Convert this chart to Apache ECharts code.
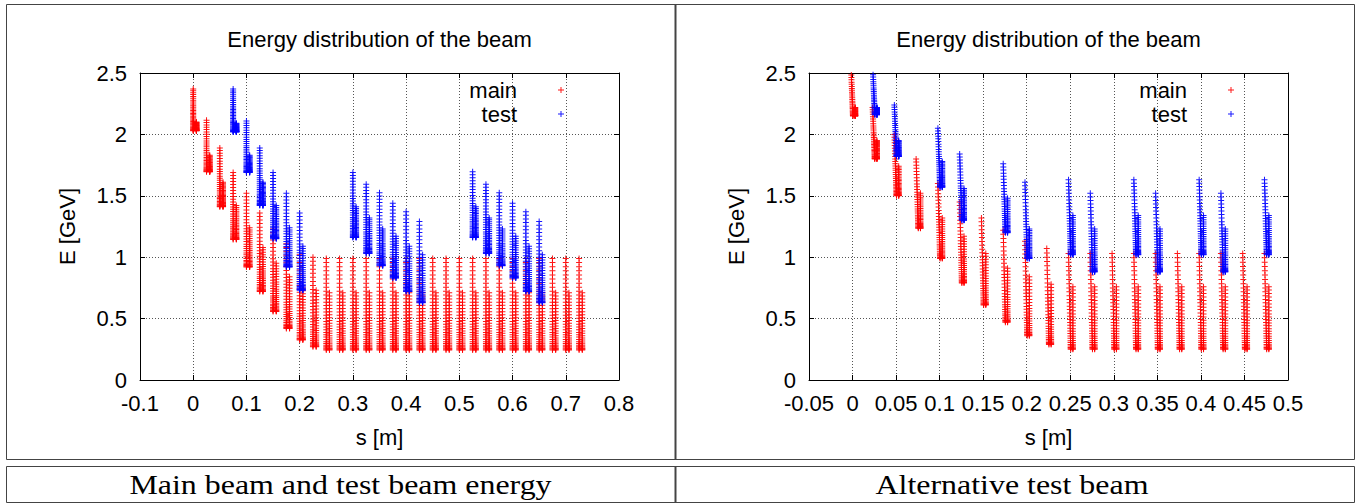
<!DOCTYPE html>
<html><head><meta charset="utf-8">
<script src="https://cdn.jsdelivr.net/npm/echarts/dist/echarts.min.js"></script>
<style>html,body{margin:0;padding:0;background:#fff;}#c{width:1362px;height:504px;}</style>
</head><body><div id="c"></div>
<script>
// ---------- LEFT PANEL: main beam and test beam ----------
const L_xTicks = [-0.1, 0.8, 0.1];   // min, max, step
const L_mainS     = [0,0.025,0.05,0.075,0.1,0.125,0.15,0.175,0.2,0.225,0.25,0.275,0.3,0.325,0.35,0.375,0.4,0.425,0.45,0.475,0.5,0.525,0.55,0.575,0.6,0.625,0.65,0.675,0.7,0.725];
const L_mainTop   = [2.37,2.115,1.89,1.69,1.52,1.36,1.23,1.11,1.02,1.0,0.99,0.99,0.99,0.99,0.99,0.99,0.99,0.99,0.99,0.99,0.99,0.99,0.99,0.99,0.99,0.99,0.99,0.99,0.99,0.99];
const L_mainSplit = [2.10,1.83,1.61,1.42,1.24,1.08,0.95,0.84,0.75,0.73,0.71,0.71,0.71,0.71,0.71,0.71,0.71,0.71,0.71,0.71,0.71,0.71,0.71,0.71,0.71,0.71,0.71,0.71,0.71,0.71];
const L_mainBot   = [2.03,1.695,1.41,1.145,0.92,0.72,0.557,0.42,0.325,0.27,0.245,0.245,0.245,0.245,0.245,0.245,0.245,0.245,0.245,0.245,0.245,0.245,0.245,0.245,0.245,0.245,0.245,0.245,0.245,0.245];
const L_testS     = [0.075,0.1,0.125,0.15,0.175,0.2, 0.3,0.325,0.35,0.375,0.4,0.425, 0.525,0.55,0.575,0.6,0.625,0.65];
const L_testTop   = [2.37,2.11,1.89,1.69,1.52,1.36, 1.69,1.595,1.525,1.44,1.37,1.29, 1.695,1.595,1.525,1.44,1.37,1.29];
const L_testSplit = [2.09,1.83,1.61,1.42,1.24,1.09, 1.41,1.32,1.23,1.17,1.09,1.02, 1.41,1.32,1.23,1.17,1.09,1.02];
const L_testBot   = [2.02,1.69,1.42,1.15,0.92,0.73, 1.16,1.03,0.93,0.83,0.72,0.63, 1.16,1.03,0.93,0.83,0.72,0.63];

// ---------- RIGHT PANEL: alternative test beam ----------
const R_xTicks = [-0.05, 0.5, 0.05];
const R_mainS     = [0,0.025,0.05,0.075,0.1,0.125,0.15,0.175,0.2,0.225,0.25,0.275,0.3,0.325,0.35,0.375,0.4,0.425,0.45,0.475];
const R_mainTop   = [2.58,2.22,2.0,1.80,1.6,1.45,1.32,1.22,1.13,1.07,1.03,1.03,1.03,1.03,1.03,1.03,1.03,1.03,1.03,1.03];
const R_mainSplit = [2.22,1.95,1.74,1.52,1.32,1.17,1.03,0.91,0.84,0.78,0.76,0.76,0.76,0.76,0.76,0.76,0.76,0.76,0.76,0.76];
const R_mainBot   = [2.15,1.80,1.5,1.235,0.99,0.79,0.61,0.47,0.36,0.29,0.25,0.25,0.25,0.25,0.25,0.25,0.25,0.25,0.25,0.25];
const R_testS     = [0.025,0.05,0.1,0.125,0.175,0.2,0.25,0.275,0.325,0.35,0.4,0.425,0.475];
const R_testTop   = [2.58,2.24,2.05,1.84,1.76,1.61,1.63,1.52,1.63,1.52,1.63,1.52,1.63];
const R_testSplit = [2.22,1.95,1.78,1.56,1.48,1.23,1.34,1.23,1.34,1.23,1.34,1.23,1.34];
const R_testBot   = [2.16,1.82,1.57,1.30,1.2,0.99,1.02,0.88,1.02,0.88,1.02,0.88,1.02];

// y axis (both panels)
const yTicks = [0, 2.5, 0.5];

// marker positions within one bunch, as fractions of the way down each track
const upperTrack = [0,0.045,0.09,0.135,0.18,0.225,0.27,0.315,0.36,0.4,0.44,0.48,0.515,0.55,0.585,0.62,0.655,0.69,0.72,0.75,0.78,0.81,0.835,0.86,0.885,0.91,0.93,0.95,0.965,0.98,0.99,1.0];
const lowerTrack = [0,0.055,0.11,0.165,0.22,0.275,0.33,0.385,0.435,0.485,0.535,0.58,0.625,0.67,0.71,0.75,0.79,0.825,0.86,0.89,0.92,0.945,0.965,0.98,0.99,1.0];

function bunches(sArr, top, split, bot, upDx0, upDx1, lowDx) {
  const pts = [];
  for (let i = 0; i < sArr.length; i++) {
    for (const f of upperTrack) pts.push([sArr[i] + upDx0 + (upDx1 - upDx0) * f, top[i] - f * (top[i] - bot[i])]);
    for (const f of lowerTrack) pts.push([sArr[i] + lowDx, split[i] - f * (split[i] - bot[i])]);
  }
  return pts;
}

const FONT = 'Liberation Sans';
const cross = 'path://M2.5,0H3.5V6H2.5Z M0,2.5H6V3.5H0Z';
const txt = {fontSize: 22, color: '#000', fontFamily: FONT};

function xAxes(gi, t) {
  return [{
    gridIndex: gi, type: 'value', min: t[0], max: t[1], interval: t[2], position: 'bottom',
    name: 's [m]', nameLocation: 'middle', nameGap: 46, nameTextStyle: txt,
    axisLine: {show: true, onZero: false, lineStyle: {color: '#000', width: 1}},
    axisTick: {show: true, inside: true, length: 5, lineStyle: {color: '#000'}},
    axisLabel: Object.assign({margin: 12, interval: 0, hideOverlap: false}, txt),
    splitLine: {show: true, lineStyle: {color: '#555', type: [1, 2], width: 1}}
  }, {
    gridIndex: gi, type: 'value', min: t[0], max: t[1], interval: t[2], position: 'top',
    axisLine: {show: true, onZero: false, lineStyle: {color: '#000', width: 1}},
    axisTick: {show: true, inside: true, length: 5, lineStyle: {color: '#000'}},
    axisLabel: {show: false}, splitLine: {show: false}
  }];
}
function yAxes(gi) {
  return [{
    gridIndex: gi, type: 'value', min: yTicks[0], max: yTicks[1], interval: yTicks[2], position: 'left',
    name: 'E [GeV]', nameLocation: 'middle', nameGap: 62, nameTextStyle: txt,
    axisLine: {show: true, onZero: false, lineStyle: {color: '#000', width: 1}},
    axisTick: {show: true, inside: true, length: 5, lineStyle: {color: '#000'}},
    axisLabel: Object.assign({margin: 13, lineHeight: 16}, txt),
    splitLine: {show: true, lineStyle: {color: '#555', type: [1, 2], width: 1}}
  }, {
    gridIndex: gi, type: 'value', min: yTicks[0], max: yTicks[1], interval: yTicks[2], position: 'right',
    axisLine: {show: true, onZero: false, lineStyle: {color: '#000', width: 1}},
    axisTick: {show: true, inside: true, length: 5, lineStyle: {color: '#000'}},
    axisLabel: {show: false}, splitLine: {show: false}
  }];
}
function ser(name, color, xi, yi, data) {
  return {name, type: 'scatter', xAxisIndex: xi, yAxisIndex: yi, data, symbol: cross, symbolSize: 6,
    itemStyle: {color, opacity: 0.9}, silent: true, progressive: 0, large: false, clip: true,
    emphasis: {disabled: true}};
}
function legend(rightPx) {
  return {data: ['main', 'test'], orient: 'vertical', align: 'right', right: rightPx, top: 74,
    itemWidth: 6, itemHeight: 6, itemGap: 2, icon: cross, selectedMode: false,
    textStyle: Object.assign({padding: [0, 36, 0, 0]}, txt)};
}
const titleStyle = {fontSize: 22, fontWeight: 'normal', color: '#000', fontFamily: FONT};
const capFont = '28px "Liberation Serif"';

const chart = echarts.init(document.getElementById('c'), null, {renderer: 'svg', width: 1362, height: 504});
chart.setOption({
  animation: false,
  backgroundColor: '#fff',
  title: [
    {text: 'Energy distribution of the beam', left: 379.5, top: 28, textAlign: 'center', padding: 0, textStyle: titleStyle},
    {text: 'Energy distribution of the beam', left: 1048.5, top: 28, textAlign: 'center', padding: 0, textStyle: titleStyle}
  ],
  legend: [legend(793), legend(123)],
  grid: [
    {left: 140, top: 73, width: 479, height: 307, containLabel: false},
    {left: 809, top: 73, width: 479, height: 307, containLabel: false}
  ],
  xAxis: [...xAxes(0, L_xTicks), ...xAxes(1, R_xTicks)],
  yAxis: [...yAxes(0), ...yAxes(1)],
  series: [
    ser('main', '#ff0000', 0, 0, bunches(L_mainS, L_mainTop, L_mainSplit, L_mainBot, 0, 0, 0.006)),
    ser('test', '#0000ff', 0, 0, bunches(L_testS, L_testTop, L_testSplit, L_testBot, 0, 0, 0.006)),
    ser('main', '#ff0000', 2, 2, bunches(R_mainS, R_mainTop, R_mainSplit, R_mainBot, -0.002, 0.0005, 0.003)),
    ser('test', '#0000ff', 2, 2, bunches(R_testS, R_testTop, R_testSplit, R_testBot, -0.002, 0.0005, 0.003))
  ],
  graphic: [
    {type: 'rect', silent: true, shape: {x: 6.5, y: 4.5, width: 1348, height: 455}, style: {fill: 'none', stroke: '#444', lineWidth: 1}},
    {type: 'line', silent: true, shape: {x1: 675.5, y1: 4, x2: 675.5, y2: 460}, style: {stroke: '#444', lineWidth: 2}},
    {type: 'rect', silent: true, shape: {x: 6.5, y: 466.5, width: 1348, height: 36}, style: {fill: 'none', stroke: '#444', lineWidth: 1}},
    {type: 'line', silent: true, shape: {x1: 675.5, y1: 466, x2: 675.5, y2: 503}, style: {stroke: '#444', lineWidth: 2}},
    {type: 'text', silent: true, x: 340.5, y: 484, scaleX: 1.14, style: {text: 'Main beam and test beam energy', font: capFont, fill: '#000', align: 'center', verticalAlign: 'middle'}},
    {type: 'text', silent: true, x: 1012, y: 484, scaleX: 1.14, style: {text: 'Alternative test beam', font: capFont, fill: '#000', align: 'center', verticalAlign: 'middle'}}
  ]
});
</script></body></html>
